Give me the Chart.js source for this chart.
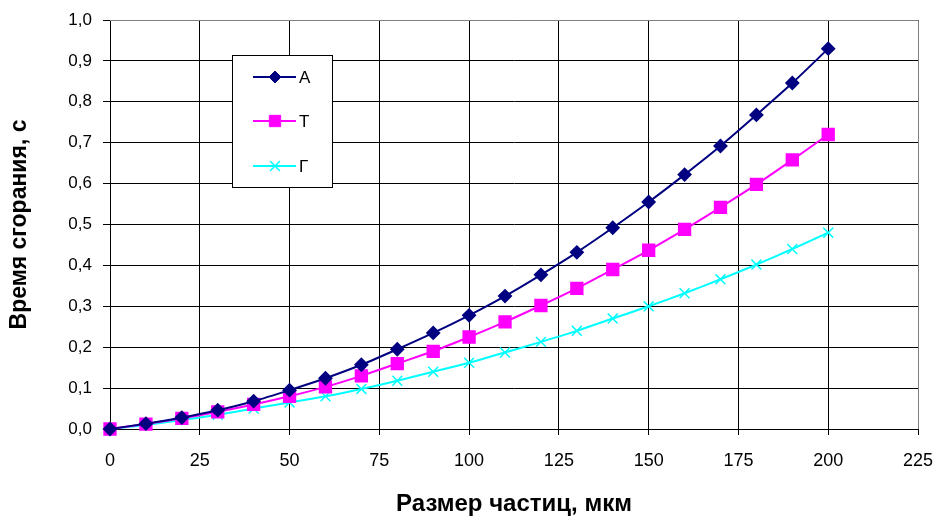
<!DOCTYPE html>
<html>
<head>
<meta charset="utf-8">
<script src="https://cdn.jsdelivr.net/npm/chart.js@4"></script>
<style>
  html, body { margin: 0; padding: 0; background: #fff; }
  #wrap { width: 934px; height: 519px; }
</style>
</head>
<body>
<div id="wrap"><canvas id="graph" width="934" height="519"></canvas></div>
<script>
// particle size, mkm
var sizes = [0, 10, 20, 30, 40, 50, 60, 70, 80, 90, 100, 110, 120, 130, 140, 150, 160, 170, 180, 190, 200];
// burn time, s
var timeA = [0, 0.013, 0.028, 0.046, 0.068, 0.095, 0.124, 0.157, 0.195, 0.235, 0.278, 0.325, 0.377, 0.432, 0.492, 0.555, 0.622, 0.692, 0.768, 0.846, 0.93];
var timeT = [0, 0.012, 0.026, 0.042, 0.06, 0.08, 0.103, 0.13, 0.16, 0.19, 0.225, 0.262, 0.302, 0.344, 0.39, 0.437, 0.488, 0.542, 0.598, 0.658, 0.72];
var timeG = [0, 0.01, 0.022, 0.035, 0.05, 0.065, 0.08, 0.098, 0.118, 0.14, 0.162, 0.187, 0.213, 0.24, 0.27, 0.3, 0.332, 0.366, 0.402, 0.44, 0.48];
var names = ['А', 'Т', 'Г'];

function pts(ys) {
    var out = [];
    for (var i in sizes) out.push({x: sizes[i], y: ys[i]});
    return out;
}

// legend box drawn inside the plot, like the original
var boxLegend = {
    id: 'boxLegend',
    afterDraw: function (chart) {
        var ctx = chart.ctx;
        ctx.save();
        ctx.fillStyle = '#fff';
        ctx.fillRect(232.5, 55.5, 100, 132);
        ctx.strokeStyle = '#000';
        ctx.lineWidth = 1;
        ctx.strokeRect(232.5, 55.5, 100, 132);
        var rows = [77, 121, 166];
        chart.data.datasets.forEach(function (ds, i) {
            var y = rows[i];
            ctx.strokeStyle = ds.borderColor;
            ctx.lineWidth = 2;
            ctx.beginPath();
            ctx.moveTo(253, y);
            ctx.lineTo(296, y);
            ctx.stroke();
            ctx.fillStyle = ds.backgroundColor;
            ctx.lineWidth = ds.pointBorderWidth || 1;
            Chart.helpers.drawPoint(ctx, {
                pointStyle: ds.pointStyle, radius: ds.pointRadius, borderWidth: ds.pointBorderWidth || 1
            }, 275, y);
            ctx.fillStyle = '#000';
            ctx.font = '17px "Liberation Sans", Arial, sans-serif';
            ctx.textBaseline = 'middle';
            ctx.fillText(ds.label, 299, y + 1);
        });
        ctx.restore();
    }
};

var frame = {
    id: 'frame',
    beforeDatasetsDraw: function (chart) {
        var a = chart.chartArea, ctx = chart.ctx;
        ctx.save();
        ctx.strokeStyle = '#808080';
        ctx.lineWidth = 1;
        ctx.beginPath();
        ctx.moveTo(a.left, a.top + 0.5);
        ctx.lineTo(a.right + 0.5, a.top + 0.5);
        ctx.lineTo(a.right + 0.5, a.bottom);
        ctx.stroke();
        ctx.restore();
    }
};

var fontTick = {family: '"Liberation Sans", Arial, sans-serif', size: 18};
var fontTickY = {family: '"Liberation Sans", Arial, sans-serif', size: 17};
var fontTitleX = {family: '"Liberation Sans", Arial, sans-serif', size: 24, weight: 'bold'};
var fontTitleY = {family: '"Liberation Sans", Arial, sans-serif', size: 23, weight: 'bold'};

new Chart(document.getElementById('graph'), {
    type: 'line',
    data: {
        datasets: [
            {
                label: names[0], data: pts(timeA), clip: false,
                borderColor: '#000080', backgroundColor: '#000080',
                borderWidth: 2, pointStyle: 'rectRot', pointRadius: 6, tension: 0.25
            },
            {
                label: names[1], data: pts(timeT), clip: false,
                borderColor: '#FF00FF', backgroundColor: '#FF00FF',
                borderWidth: 2, pointStyle: 'rect', pointRadius: 8, tension: 0.25
            },
            {
                label: names[2], data: pts(timeG), clip: false,
                borderColor: '#00FFFF', backgroundColor: '#00FFFF',
                borderWidth: 2, pointStyle: 'crossRot', pointRadius: 7, pointBorderWidth: 1.5, tension: 0.25
            }
        ]
    },
    options: {
        responsive: false,
        animation: false,
        layout: {padding: {top: 20, right: 16, left: 0, bottom: 0}},
        plugins: {legend: {display: false}, tooltip: {enabled: false}},
        scales: {
            x: {
                type: 'linear', min: 0, max: 225,
                ticks: {stepSize: 25, color: '#000', font: fontTick, padding: 15},
                grid: {color: '#000', lineWidth: 1, tickLength: 6},
                border: {color: '#000'},
                title: {display: true, text: 'Размер частиц, мкм', color: '#000', font: fontTitleX, padding: {top: 4, bottom: 0}},
                afterFit: function (s) { s.height = 90; s.paddingLeft = 0; s.paddingRight = 0; }
            },
            y: {
                min: 0, max: 1,
                ticks: {
                    stepSize: 0.1, color: '#000', font: fontTickY, padding: 11,
                    callback: function (v) { return v.toFixed(1).replace('.', ','); }
                },
                grid: {color: '#000', lineWidth: 1, tickLength: 7},
                border: {color: '#000'},
                title: {display: true, text: 'Время сгорания, с', color: '#000', font: fontTitleY, padding: {top: 6, bottom: 4}},
                afterFit: function (s) { s.width = 110; s.paddingTop = 0; s.paddingBottom = 0; }
            }
        }
    },
    plugins: [frame, boxLegend]
});
</script>
</body>
</html>
